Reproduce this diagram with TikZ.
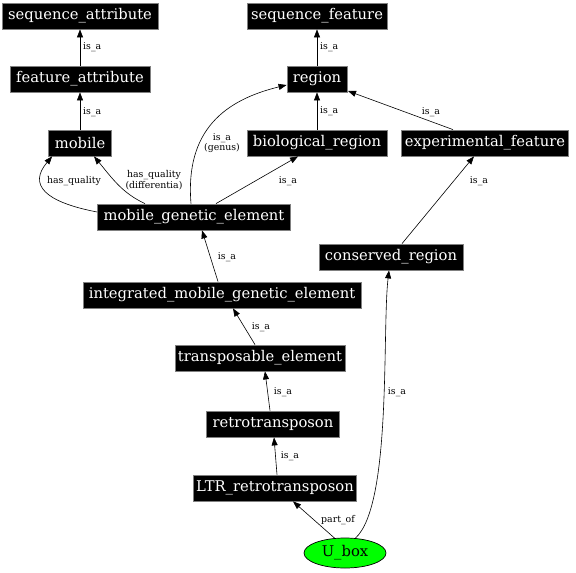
\documentclass[tikz,border=0pt]{standalone}
\usepackage{fontspec}
\setmainfont{DejaVu Serif}
\usetikzlibrary{arrows.meta,shapes.geometric}
\begin{document}
\begin{tikzpicture}[x=1bp,y=-1bp,
  box/.style={fill=black, draw=gray, line width=0.8bp, text=white, font=\fontsize{14.8}{16}\selectfont, minimum height=26bp, inner sep=0pt},
  edge/.style={draw=black, line width=0.6bp, -{Triangle[length=8bp,width=6bp]}},
  lbl/.style={font=\fontsize{9.4}{10.5}\selectfont, align=center, inner sep=0pt}]
\path[use as bounding box, fill=white] (0,0) rectangle (576,573);

\node[box, minimum width=156bp] (sa) at (80,16) {sequence\_attribute};
\node[box, minimum width=140bp] (sf) at (317,16) {sequence\_feature};
\node[box, minimum width=140bp] (fa) at (80,79) {feature\_attribute};
\node[box, minimum width=60bp] (reg) at (317,79) {region};
\node[box, minimum width=63bp] (mob) at (80,143) {mobile};
\node[box, minimum width=140bp] (bio) at (317,143) {biological\_region};
\node[box, minimum width=167bp] (exp) at (485,143) {experimental\_feature};
\node[box, minimum width=193bp] (mge) at (194,217) {mobile\_genetic\_element};
\node[box, minimum width=144bp] (cons) at (391,257) {conserved\_region};
\node[box, minimum width=278bp] (imge) at (222,295) {integrated\_mobile\_genetic\_element};
\node[box, minimum width=170bp] (te) at (260,358) {transposable\_element};
\node[box, minimum width=133bp] (rt) at (273,424) {retrotransposon};
\node[box, minimum width=163bp] (ltr) at (275,488) {LTR\_retrotransposon};
\node[ellipse, fill=green, draw=black, line width=0.7bp, minimum width=82bp, minimum height=30bp, inner sep=0pt, font=\fontsize{14.8}{16}\selectfont] (ubox) at (345,553) {U\_box};

% edges
\draw[edge] (fa.north) -- (sa.south);
\node[lbl, anchor=west] (l1) at (83,47) {is\_a};
\draw[edge] (mob.north) -- (fa.south);
\node[lbl, anchor=west] (l2) at (83,112) {is\_a};
\draw[edge] (reg.north) -- (sf.south);
\node[lbl, anchor=west] (l3) at (320,47) {is\_a};
\draw[edge] (bio.north) -- (reg.south);
\node[lbl, anchor=west] (l4) at (320,111) {is\_a};
\draw[edge] ([xshift=-32bp]exp.north) -- ([xshift=31bp,yshift=-12bp]reg.center);
\node[lbl] (l5) at (431,112) {is\_a};

\draw[edge] ([yshift=5bp]mge.west) .. controls (45,202) and (28,185) .. ([xshift=4bp]mob.south west);
\node[lbl] (l6) at (74,181) {has\_quality};
\draw[edge] ([xshift=-49bp]mge.north) .. controls (122,193) and (112,178) .. ([xshift=14bp]mob.south);
\node[lbl] (l7) at (154,180) {has\_quality\\(differentia)};
\draw[edge] ([xshift=-3bp]mge.north) .. controls (185,130) and (225,100) .. ([yshift=-6bp]reg.west);
\node[lbl] (l8) at (222,143) {is\_a\\(genus)};
\draw[edge] ([xshift=22bp]mge.north) -- ([xshift=-19bp]bio.south);
\node[lbl] (l9) at (288,181) {is\_a};

\draw[edge] ([xshift=11bp]cons.north) -- ([xshift=-11bp]exp.south);
\node[lbl] (l10) at (479,181) {is\_a};
\draw[edge] ([xshift=-4bp]imge.north) -- ([xshift=8bp]mge.south);
\node[lbl] (l11) at (227,257) {is\_a};
\draw[edge] ([xshift=-5bp]te.north) -- ([xshift=11bp]imge.south);
\node[lbl] (l12) at (261,327) {is\_a};
\draw[edge] ([xshift=-3bp]rt.north) -- ([xshift=5bp]te.south);
\node[lbl] (l13) at (283,392) {is\_a};
\draw[edge] ([xshift=2bp]ltr.north) -- ([xshift=1bp]rt.south);
\node[lbl] (l14) at (290,456) {is\_a};
\draw[edge] (ubox.125) -- ([xshift=18bp]ltr.south);
\node[lbl] (l15) at (338,520) {part\_of};
\draw[edge] (ubox.55) .. controls (392,505) and (382,330) .. ([xshift=-2bp]cons.south);
\node[lbl] (l16) at (397,392) {is\_a};
\end{tikzpicture}
\end{document}
